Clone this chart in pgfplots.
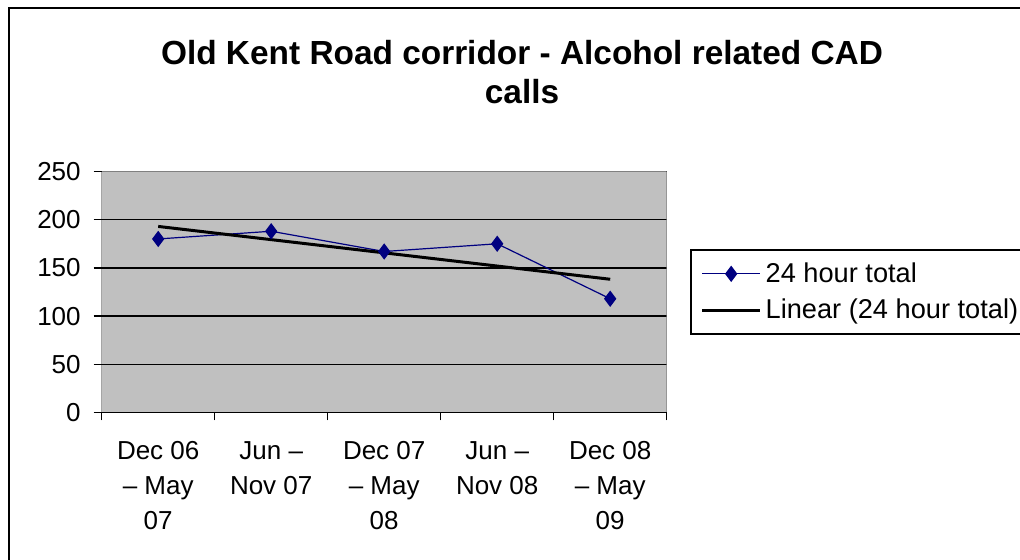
\documentclass[border=0pt]{standalone}
\usepackage{pgfplots}
\pgfplotsset{compat=1.18}
\usepackage{fontspec}
\setmainfont{Liberation Sans}
\definecolor{plotgray}{HTML}{C0C0C0}
\definecolor{navyblue}{HTML}{000080}
\definecolor{bordergray}{HTML}{808080}
\begin{document}
\begin{tikzpicture}[x=0.5pt,y=0.5pt]
\useasboundingbox (0,0) rectangle (1020,559);
\clip (0,0) rectangle (1020,559);
\fill[white] (0,0) rectangle (1020,559);
\draw[line width=1pt] (9,-20) -- (9,551) -- (1040,551);
\node[font=\fontsize{16.7}{20}\selectfont\bfseries, anchor=base] at (522,495) {Old Kent Road corridor - Alcohol related CAD};
\node[font=\fontsize{16.7}{20}\selectfont\bfseries, anchor=base] at (522,456) {calls};
\begin{axis}[
  at={(90,152)}, anchor=south west,
  scale only axis, width=282.5pt, height=120.5pt,
  xmin=-0.5, xmax=4.5, ymin=0, ymax=250,
  ytick={0,50,...,250},
  ymajorgrids, major grid style={black, line width=0.75pt},
  axis background/.style={fill=plotgray},
  axis line style={draw=none},
  tick align=outside, tick pos=left,
  major tick length=4pt,
  tick style={black, line width=0.75pt},
  xtick={-0.5,0.5,...,4.5}, xticklabels={},
  extra x ticks={0,1,2,3,4},
  extra x tick labels={{Dec 06\\– May\\07},{Jun –\\Nov 07},{Dec 07\\– May\\08},{Jun –\\Nov 08},{Dec 08\\– May\\09}},
  extra x tick style={major tick length=0pt, tick label style={align=center, font=\fontsize{13}{17.5}\selectfont, yshift=-11pt}},
  yticklabel style={font=\fontsize{13}{15}\selectfont, xshift=-3pt},
  /pgf/number format/assume math mode=true,
  legend style={at={(rel axis cs:1.0407,0.6763)}, anchor=north west, draw=black, line width=1pt, fill=white,
    font=\fontsize{13.6}{15.5}\selectfont, inner xsep=5pt, inner ysep=4pt, row sep=3pt,
    /tikz/every even column/.append style={column sep=2pt}},
  legend cell align=left,
  legend image code/.code={\draw[mark repeat=2,mark phase=2,#1] plot coordinates {(0pt,0pt)(14.5pt,0pt)(29pt,0pt)};},
]
\draw[black, line width=0.75pt] (rel axis cs:0,1) -- (rel axis cs:0,0) -- (rel axis cs:1,0);
\draw[bordergray, line width=0.75pt] (rel axis cs:0,1) -- (rel axis cs:1,1) -- (rel axis cs:1,0);
\addplot[navyblue, line width=0.6pt, mark=diamond*, mark size=3.6pt, mark options={fill=navyblue, solid}]
  coordinates {(0,180) (1,188) (2,167) (3,175) (4,118)};
\addlegendentry{24 hour total}
\addplot[black, line width=1.5pt, no marks]
  coordinates {(0,193) (4,138.2)};
\addlegendentry{Linear (24 hour total)}
\end{axis}
\end{tikzpicture}
\end{document}
